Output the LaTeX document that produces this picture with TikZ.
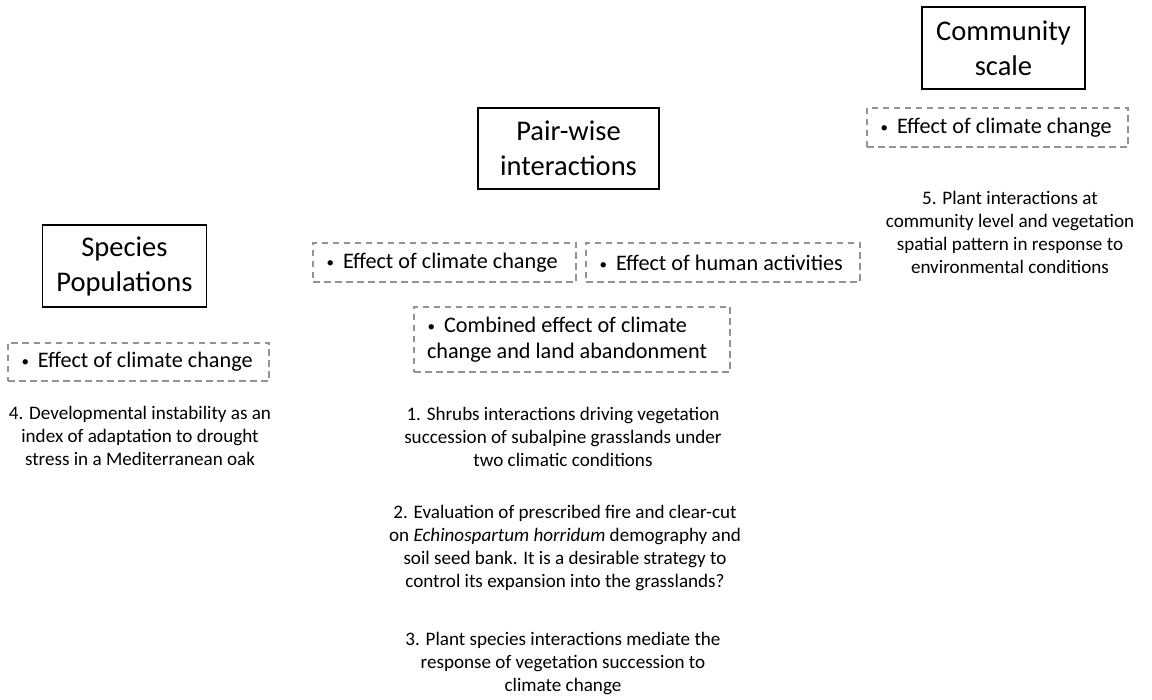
\documentclass[tikz,border=0pt]{standalone}
\usepackage{fontspec}
\setmainfont{Carlito}
\newcommand{\bul}{\makebox[17pt][l]{\hspace{0.5pt}\raisebox{1pt}{\fontsize{15}{15}\selectfont\textbullet}}}
\newcommand{\lline}[2]{\makebox[#1pt][l]{#2}}
\begin{document}
\begin{tikzpicture}[x=1pt,y=-1pt,
  head/.style={draw=black,line width=1.2pt,inner sep=0pt,font=\fontsize{28.5}{35}\selectfont,align=center},
  dbox/.style={draw=gray!85,dash pattern=on 6.5pt off 4.5pt,line width=1.2pt,inner xsep=13pt,inner ysep=0pt,font=\fontsize{22.2}{26.5}\selectfont,align=left},
  body/.style={font=\fontsize{19.1}{23}\selectfont,align=center,inner sep=0pt}]
\useasboundingbox (0,0) rectangle (1152,700);
% headers
\node[head,minimum width=164pt,minimum height=82pt] (sp) at (124.5,266) {Species\\Populations};
\node[head,minimum width=181pt,minimum height=81pt] (pw) at (568.5,148.5) {Pair-wise\\interactions};
\node[head,minimum width=163pt,minimum height=82pt] (cs) at (1003.5,48) {Community\\scale};
% dashed boxes
\node[dbox,minimum width=261pt,minimum height=38pt] (spe) at (138.5,362) {\lline{235}{\bul Effect of climate change}};
\node[dbox,minimum width=263pt,minimum height=39pt] (pwc) at (444.5,262.5) {\lline{237}{\bul Effect of climate change}};
\node[dbox,minimum width=274pt,minimum height=39pt] (pwh) at (723,262.5) {\lline{248}{\bul Effect of human activities}};
\node[dbox,minimum width=316pt,minimum height=65pt] (pwb) at (572,339.5) {\lline{290}{\bul Combined effect of climate}\\change and land abandonment};
\node[dbox,minimum width=261pt,minimum height=39pt] (cse) at (997.5,127.5) {\lline{235}{\bul Effect of climate change}};
% texts
\node[body] (t4) at (140,436) {4. Developmental instability as an\\index of adaptation to drought\\stress in a Mediterranean oak};
\node[body] (t1) at (563,437) {1. Shrubs interactions driving vegetation\\succession of subalpine grasslands under\\two climatic conditions};
\node[body] (t2) at (565,548) {2. Evaluation of prescribed fire and clear-cut\\on \textit{Echinospartum horridum} demography and\\soil seed bank. It is a desirable strategy to\\control its expansion into the grasslands?};
\node[body] (t3) at (563,664) {3. Plant species interactions mediate the\\response of vegetation succession to\\climate change};
\node[body] (t5) at (1010,232) {5. Plant interactions at\\community level and vegetation\\spatial pattern in response to\\environmental conditions};
\end{tikzpicture}
\end{document}
